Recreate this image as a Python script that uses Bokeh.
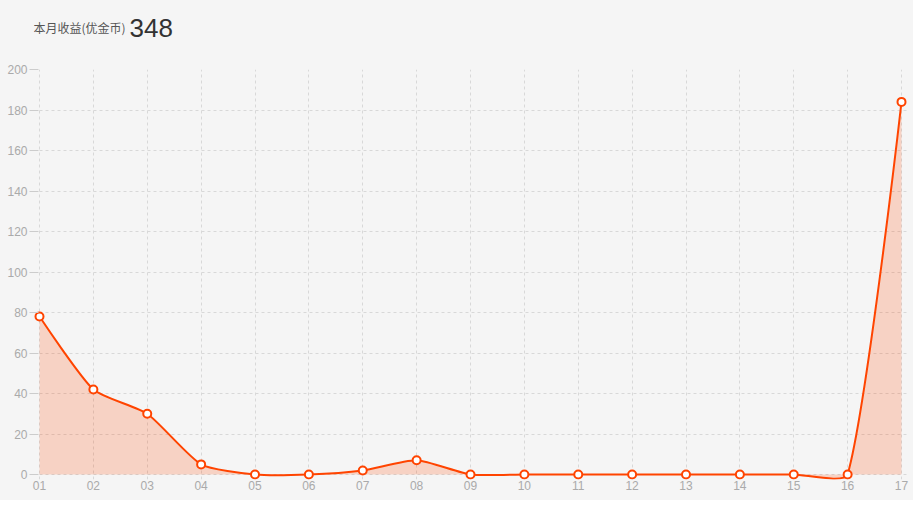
import numpy as np
from bokeh.plotting import figure
from bokeh.models import Range1d, FixedTicker, ColumnDataSource
from bokeh.layouts import column
from bokeh.core.properties import value
from bokeh.embed import file_html
from bokeh.resources import INLINE

# ---- data ----
days = ["01", "02", "03", "04", "05", "06", "07", "08", "09", "10",
        "11", "12", "13", "14", "15", "16", "17"]
income = [78, 42, 30, 5, 0, 0, 2, 7, 0, 0, 0, 0, 0, 0, 0, 0, 184]
title_text = "本月收益(优金币)"
total = sum(income)
y_ticks = list(range(0, 201, 20))

LINE = "#ff4400"
BG = "#f5f5f5"
W = 913
BL, BR = 33, 6  # left / right borders shared by both figures

# pixel scales used for the smoothing (px per x step, px per y unit)
XS = 53.875
YS = 2.025
SMOOTH = 0.2

xi = np.arange(len(days), dtype=float)
yv = np.array(income, dtype=float)
px = xi * XS
py = yv * YS
n = len(px)

# control points (echarts-like smoothing)
cp_in = [None] * n
cp_out = [None] * n
for i in range(n):
    if i == 0 or i == n - 1:
        cp_in[i] = (px[i], py[i])
        cp_out[i] = (px[i], py[i])
        continue
    vx = px[i + 1] - px[i - 1]
    vy = py[i + 1] - py[i - 1]
    d0 = np.hypot(px[i] - px[i - 1], py[i] - py[i - 1])
    d1 = np.hypot(px[i + 1] - px[i], py[i + 1] - py[i])
    r = d1 / (d0 + d1) if (d0 + d1) else 0.5
    cp_in[i] = (px[i] - vx * SMOOTH * (1 - r), py[i] - vy * SMOOTH * (1 - r))
    cp_out[i] = (px[i] + vx * SMOOTH * r, py[i] + vy * SMOOTH * r)

x0, y0, x1, y1, cx0, cy0, cx1, cy1 = ([] for _ in range(8))
ax, ay = [], []
t = np.linspace(0, 1, 40)
for i in range(n - 1):
    P0 = np.array([px[i], py[i]])
    C0 = np.array(cp_out[i])
    C1 = np.array(cp_in[i + 1])
    P1 = np.array([px[i + 1], py[i + 1]])
    x0.append(P0[0] / XS); y0.append(P0[1] / YS)
    x1.append(P1[0] / XS); y1.append(P1[1] / YS)
    cx0.append(C0[0] / XS); cy0.append(C0[1] / YS)
    cx1.append(C1[0] / XS); cy1.append(C1[1] / YS)
    tt = t if i == 0 else t[1:]
    bx = ((1 - tt) ** 3) * P0[0] + 3 * ((1 - tt) ** 2) * tt * C0[0] + 3 * (1 - tt) * tt ** 2 * C1[0] + tt ** 3 * P1[0]
    by = ((1 - tt) ** 3) * P0[1] + 3 * ((1 - tt) ** 2) * tt * C0[1] + 3 * (1 - tt) * tt ** 2 * C1[1] + tt ** 3 * P1[1]
    ax.extend(bx / XS)
    ay.extend(by / YS)

seg = ColumnDataSource(dict(x0=x0, y0=y0, x1=x1, y1=y1, cx0=cx0, cy0=cy0, cx1=cx1, cy1=cy1))
area = ColumnDataSource(dict(x=ax, y1=[0] * len(ax), y2=ay))
pts = ColumnDataSource(dict(x=list(xi), y=income))

# ---- header ----
HH = 50
h = figure(width=W, height=HH, output_backend="svg", toolbar_location=None,
           x_range=Range1d(BL, W - BR), y_range=Range1d(HH, 0),
           x_axis_type=None, y_axis_type=None,
           min_border_left=BL, min_border_right=BR, min_border_top=0, min_border_bottom=0)
h.background_fill_color = BG
h.border_fill_color = BG
h.outline_line_color = None
h.xgrid.visible = False
h.ygrid.visible = False
h.text(x=[33], y=[27], text=[title_text], text_font=value("Noto Sans CJK SC"),
       text_font_size="12px", text_color="#555555", text_baseline="middle", text_align="left")
h.text(x=[129], y=[27], text=[str(total)], text_font=value("Liberation Sans"),
       text_font_size="26px", text_color="#333333", text_baseline="middle", text_align="left")

# ---- main chart ----
xpad = 6 / XS
ypad = 5 / YS
MH = 450
p = figure(width=W, height=MH, output_backend="svg", toolbar_location=None,
           x_range=Range1d(-xpad, len(days) - 1 + xpad),
           y_range=Range1d(-ypad, 200),
           min_border_left=BL, min_border_right=BR, min_border_top=19, min_border_bottom=21)
p.background_fill_color = BG
p.border_fill_color = BG
p.outline_line_color = None

p.varea(x="x", y1="y1", y2="y2", source=area, fill_color=LINE, fill_alpha=0.2)
p.bezier(x0="x0", y0="y0", x1="x1", y1="y1", cx0="cx0", cy0="cy0", cx1="cx1", cy1="cy1",
         source=seg, line_color=LINE, line_width=2)
p.scatter(x="x", y="y", source=pts, size=8, fill_color="white", line_color=LINE, line_width=2)

# axes
p.xaxis.ticker = FixedTicker(ticks=list(xi))
p.xaxis.major_label_overrides = {int(i): d for i, d in enumerate(days)}
p.xaxis.axis_line_color = None
p.xaxis.major_tick_line_color = None
p.xaxis.minor_tick_line_color = None
p.xaxis.major_tick_out = 0
p.xaxis.major_tick_in = 0
p.xaxis.major_label_standoff = 1

p.yaxis.ticker = FixedTicker(ticks=y_ticks)
p.yaxis.axis_line_color = None
p.yaxis.major_tick_line_color = "#cccccc"
p.yaxis.major_tick_out = 4
p.yaxis.major_tick_in = 5
p.yaxis.minor_tick_line_color = None
p.yaxis.major_label_standoff = 2

for ax_ in (p.xaxis, p.yaxis):
    ax_.major_label_text_color = "#aaaaaa"
    ax_.major_label_text_font = "Liberation Sans"
    ax_.major_label_text_font_size = "12px"

p.xgrid.ticker = FixedTicker(ticks=list(xi))
p.ygrid.ticker = FixedTicker(ticks=y_ticks)
for g in (p.xgrid, p.ygrid):
    g.grid_line_color = "#d8d8d8"
    g.grid_line_dash = "3 3"
    g.grid_line_width = 1

layout = column(h, p, spacing=0, styles={"background-color": BG})
open("out.html", "w").write(file_html(layout, INLINE))
